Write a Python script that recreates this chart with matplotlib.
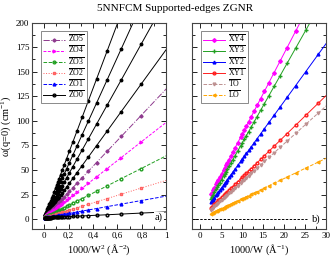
import numpy as np
import matplotlib
matplotlib.use("Agg")
from matplotlib import pyplot as plt
from matplotlib.ticker import MultipleLocator

plt.rcParams['font.family'] = ['Liberation Serif', 'DejaVu Serif']
plt.rcParams['mathtext.fontset'] = 'custom'
plt.rcParams['mathtext.rm'] = 'Liberation Serif'
plt.rcParams['mathtext.it'] = 'Liberation Serif:italic'

# ribbon widths (Angstrom)
widths = [31.3, 35.5, 39.8, 44.0, 48.3, 52.6, 56.8, 61.1, 65.4, 69.6, 73.9, 78.2, 82.4, 86.7, 91.0, 95.2, 99.5, 103.8,
          112.3, 120.8, 129.3, 137.8, 146.3, 154.8, 163.3, 171.8, 180.3, 197.3, 214.3, 231.3, 248.3, 265.3,
          299.3, 333.3, 367.3, 398.0]

# out-of-plane modes (cm^-1)
zo0 = [7.6,6.3,5.3,4.6,4.1,3.7,3.4,3.1,2.9,2.7,2.6,2.5,2.4,2.3,2.2,2.2,2.1,2.1,2.0,1.9,1.9,1.8,1.8,1.8,1.7,1.7,1.7,1.7,1.6,1.6,1.6,1.6,1.6,1.6,1.5,1.5]
zo1 = [24.0,19.0,15.4,12.9,10.9,9.5,8.3,7.4,6.6,6.0,5.5,5.1,4.7,4.4,4.2,3.9,3.7,3.5,3.2,3.0,2.8,2.7,2.5,2.4,2.3,2.2,2.2,2.1,2.0,1.9,1.9,1.8,1.7,1.7,1.7,1.6]
zo2 = [40.3,31.7,25.5,21.1,17.8,15.2,13.3,11.7,10.4,9.3,8.5,7.7,7.1,6.6,6.1,5.7,5.3,5.0,4.5,4.1,3.8,3.5,3.3,3.1,2.9,2.8,2.7,2.5,2.3,2.2,2.1,2.0,1.9,1.8,1.8,1.7]
zo3 = [65.8,51.5,41.3,34.0,28.5,24.3,21.0,18.4,16.2,14.5,13.0,11.8,10.8,9.9,9.1,8.5,7.9,7.3,6.5,5.8,5.3,4.8,4.4,4.1,3.9,3.6,3.4,3.1,2.9,2.7,2.5,2.4,2.2,2.1,2.0,1.9]
zo4 = [100.5,78.5,62.7,51.6,43.1,36.6,31.6,27.5,24.2,21.5,19.3,17.4,15.8,14.4,13.2,12.2,11.3,10.5,9.2,8.1,7.3,6.6,6.0,5.5,5.1,4.8,4.5,4.0,3.6,3.3,3.1,2.9,2.6,2.4,2.2,2.1]
zo5 = [135.2,105.4,84.2,69.2,57.7,48.8,42.1,36.6,32.1,28.5,25.5,22.9,20.8,18.9,17.3,16.0,14.7,13.7,11.9,10.5,9.3,8.4,7.6,7.0,6.4,5.9,5.5,4.9,4.4,3.9,3.6,3.4,3.0,2.7,2.5,2.3]
zo6 = [176.0,137.2,109.5,89.8,74.8,63.3,54.5,47.3,41.5,36.8,32.8,29.5,26.7,24.2,22.1,20.4,18.8,17.4,15.1,13.2,11.7,10.5,9.5,8.6,7.9,7.3,6.8,5.9,5.2,4.7,4.3,3.9,3.4,3.0,2.8,2.6]
zo7 = [228.1,177.7,141.6,116.2,96.7,81.7,70.3,61.0,53.4,47.3,42.2,37.8,34.2,31.0,28.3,26.0,23.9,22.1,19.1,16.7,14.8,13.2,11.9,10.8,9.8,9.0,8.3,7.2,6.3,5.6,5.1,4.7,4.0,3.5,3.1,2.9]
zo8 = [279.1,217.3,173.2,142.0,118.1,99.8,85.8,74.4,65.1,57.7,51.3,46.0,41.6,37.7,34.3,31.5,29.0,26.7,23.1,20.1,17.8,15.8,14.2,12.9,11.7,10.7,9.9,8.5,7.4,6.6,5.9,5.4,4.5,3.9,3.5,3.2]
zo9 = [337.3,262.6,209.2,171.4,142.5,120.4,103.5,89.6,78.4,69.4,61.7,55.3,50.0,45.3,41.2,37.8,34.7,32.0,27.6,24.0,21.2,18.8,16.9,15.2,13.8,12.6,11.6,10.0,8.7,7.6,6.8,6.2,5.2,4.5,3.9,3.6]

# in-plane modes (cm^-1)
xy4 = [266.7,235.7,210.7,191.1,174.5,160.6,149.1,138.9,130.1,122.5,115.7,109.6,104.2,99.3,94.8,90.8,87.1,83.7,77.7,72.6,68.1,64.2,60.7,57.7,54.9,52.4,50.2,46.3,43.0,40.2,37.7,35.6,32.1,29.3,27.0,25.3]
xy3 = [243.5,215.0,191.9,173.8,158.5,145.7,135.1,125.7,117.6,110.6,104.3,98.7,93.7,89.2,85.1,81.4,78.0,74.8,69.3,64.6,60.5,56.9,53.7,50.8,48.3,46.0,43.9,40.3,37.3,34.7,32.4,30.5,27.3,24.7,22.6,21.0]
xy2 = [189.9,167.8,149.9,135.8,123.9,114.0,105.7,98.5,92.2,86.7,81.8,77.5,73.6,70.1,66.9,64.1,61.4,59.0,54.7,51.0,47.8,45.0,42.5,40.3,38.3,36.6,35.0,32.2,29.8,27.8,26.0,24.5,22.0,20.0,18.4,17.1]
xy1 = [133.8,118.1,105.5,95.5,87.1,80.1,74.3,69.1,64.7,60.8,57.4,54.3,51.6,49.1,46.8,44.8,42.9,41.2,38.2,35.6,33.3,31.3,29.6,28.0,26.6,25.4,24.2,22.2,20.6,19.1,17.9,16.8,15.1,13.7,12.5,11.6]
to = [122.6,108.1,96.4,87.2,79.5,73.0,67.6,62.9,58.8,55.2,52.0,49.2,46.7,44.4,42.3,40.4,38.7,37.1,34.3,31.9,29.8,28.0,26.4,24.9,23.7,22.5,21.4,19.6,18.1,16.8,15.6,14.6,13.0,11.7,10.6,9.8]
lo = [66.0,58.2,52.0,47.1,42.9,39.5,36.6,34.1,31.8,30.0,28.2,26.7,25.4,24.1,23.0,22.0,21.1,20.2,18.8,17.5,16.4,15.4,14.5,13.7,13.1,12.4,11.9,10.9,10.1,9.4,8.8,8.2,7.3,6.7,6.1,5.7]

W = np.array(widths)
x_left = 1000 / W**2
x_right = 1000 / W

fig = plt.figure(figsize=(3.31, 2.56), dpi=100)
ax1 = fig.add_axes([0.097, 0.105, 0.405, 0.807])
ax2 = fig.add_axes([0.580, 0.105, 0.405, 0.807])

lw = 0.7
ms = 2.0
# unlabeled steep modes
for y in [zo9, zo8, zo7, zo6]:
    ax1.plot(x_left, y, '-', color='black', lw=lw, marker='o', ms=1.8, zorder=2)
ax1.plot(x_left, zo5, '-.', color='#8e3a8e', lw=lw, marker='D', ms=1.6, label=r'$\overline{\mathrm{ZO5}}$')
ax1.plot(x_left, zo4, '--', color='#ff00ff', lw=lw, marker='>', ms=ms, mfc='none', dashes=(3, 1.5), label=r'$\overline{\mathrm{ZO4}}$')
ax1.plot(x_left, zo3, '--', color='#22a022', lw=lw, marker='o', ms=ms, mfc='none', label=r'$\overline{\mathrm{ZO3}}$')
ax1.plot(x_left, zo2, ':', color='#ff6060', lw=lw, marker='s', ms=ms, mfc='none', label=r'$\overline{\mathrm{ZO2}}$')
ax1.plot(x_left, zo1, '--', color='#0000ff', lw=lw, marker='^', ms=ms, label=r'$\overline{\mathrm{ZO1}}$')
ax1.plot(x_left, zo0, '-', color='black', lw=lw, marker='o', ms=ms, mfc='none', label=r'$\overline{\mathrm{ZO0}}$')

ax2.plot(x_right, xy4, '-', color='#ff00ff', lw=lw, marker='D', ms=1.9, label=r'$\overline{\mathrm{XY4}}$')
ax2.plot(x_right, xy3, '-', color='#22a022', lw=lw, marker='+', ms=3.0, label=r'$\overline{\mathrm{XY3}}$')
ax2.plot(x_right, xy2, '-', color='#0000ff', lw=lw, marker='^', ms=ms, label=r'$\overline{\mathrm{XY2}}$')
ax2.plot(x_right, xy1, '-', color='#ff2020', lw=lw, marker='o', ms=ms, mfc='none', label=r'$\overline{\mathrm{XY1}}$')
ax2.plot(x_right, to, '--', color='#bc8f8f', lw=lw, marker='v', ms=ms, mfc='none', label=r'$\overline{\mathrm{TO}}$')
ax2.plot(x_right, lo, '--', color='#ffa500', lw=lw, marker='<', ms=ms, mfc='none', label=r'$\overline{\mathrm{LO}}$')
ax2.plot([-2, 25.5], [0, 0], '--', color='black', lw=0.7, dashes=(2.5, 1.5))

ax1.set_xlim(-0.1, 1.0)
ax2.set_xlim(-2, 30)
for ax in (ax1, ax2):
    ax.set_ylim(-10, 200)
    ax.yaxis.set_major_locator(MultipleLocator(25))
    ax.yaxis.set_minor_locator(MultipleLocator(12.5))
    ax.tick_params(which='both', direction='in', top=True, right=True, labelsize=6.5, width=0.6, pad=2)
    ax.tick_params(which='major', length=3.5)
    ax.tick_params(which='minor', length=2)
    for sp in ax.spines.values():
        sp.set_linewidth(0.8)
        sp.set_color('#444444')
ax1.xaxis.set_major_locator(MultipleLocator(0.2))
ax1.xaxis.set_minor_locator(MultipleLocator(0.1))
ax1.set_xticks([0, 0.2, 0.4, 0.6, 0.8, 1.0])
ax1.set_xticklabels(['0', '0,2', '0,4', '0,6', '0,8', '1'])
ax2.xaxis.set_major_locator(MultipleLocator(5))
ax2.xaxis.set_minor_locator(MultipleLocator(2.5))
ax2.tick_params(labelleft=False)

ax1.set_ylabel(r'ω(q=0) (cm$^{-1}$)', fontsize=7.5, labelpad=2)
ax1.set_xlabel(r'1000/W$^{2}$ (Å$^{-2}$)', fontsize=7.5, labelpad=2)
ax2.set_xlabel(r'1000/W (Å$^{-1}$)', fontsize=7.5, labelpad=2)

ax1.text(0.975, 2, 'a)', fontsize=7.5, ha='right', va='center',
         bbox=dict(facecolor='white', edgecolor='none', pad=0.5), zorder=5)
ax2.text(28.8, 0, 'b)', fontsize=7.5, ha='right', va='center',
         bbox=dict(facecolor='white', edgecolor='none', pad=0.5), zorder=5)

leg_kw = dict(fontsize=5.6, frameon=True, fancybox=False, handlelength=2.8, handletextpad=0.4,
              borderpad=0.35, labelspacing=0.0, borderaxespad=1.1)
l1 = ax1.legend(loc='upper left', **leg_kw)
l2 = ax2.legend(loc='upper left', **leg_kw)
for leg in (l1, l2):
    leg.get_frame().set_edgecolor('#555555')
    leg.get_frame().set_linewidth(0.6)

fig.text(0.53, 0.968, '5NNFCM Supported-edges ZGNR', ha='center', va='center', fontsize=8)

fig.savefig('out.png', dpi=100)
